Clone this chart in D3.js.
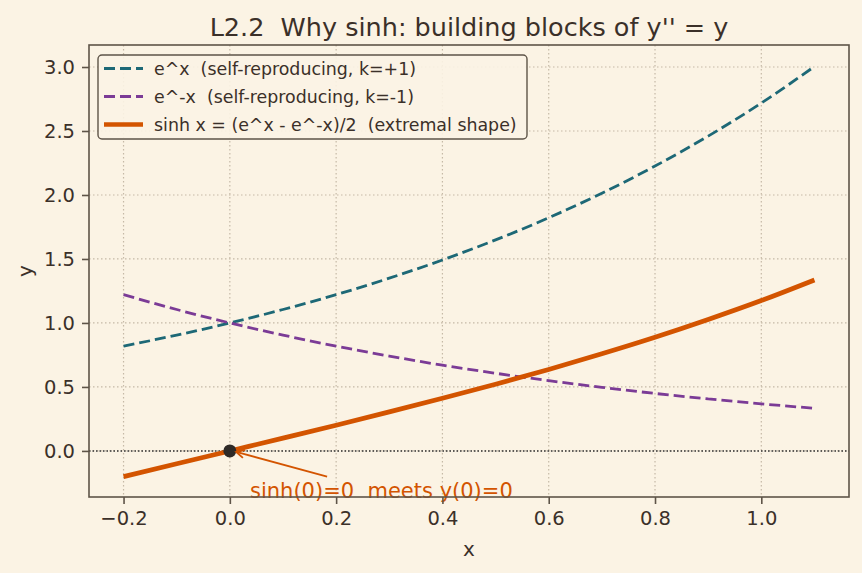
<!DOCTYPE html>
<meta charset="utf-8">
<title>Why sinh</title>
<style>
body {
  margin: 0;
  background: #fbf3e4;
  font-family: "DejaVu Sans", sans-serif;
}
text {
  white-space: pre;
}
</style>
<body></body>
<script src="https://cdn.jsdelivr.net/npm/d3@7"></script>
<script>

var width = 862,
    height = 573;

// values, x step 0.1
var xs = [-0.2, -0.1, 0.0, 0.1, 0.2, 0.3, 0.4, 0.5, 0.6, 0.7, 0.8, 0.9, 1.0, 1.1];
var expPos = [0.819, 0.905, 1.0, 1.105, 1.221, 1.350, 1.492, 1.649, 1.822, 2.014, 2.226, 2.460, 2.718, 3.004];
var expNeg = [1.221, 1.105, 1.0, 0.905, 0.819, 0.741, 0.670, 0.607, 0.549, 0.497, 0.449, 0.407, 0.368, 0.333];
var sinhY  = [-0.201, -0.100, 0.0, 0.100, 0.201, 0.305, 0.411, 0.521, 0.637, 0.759, 0.888, 1.027, 1.175, 1.336];

var xTicks = [-0.2, 0.0, 0.2, 0.4, 0.6, 0.8, 1.0];
var yTicks = [0.0, 0.5, 1.0, 1.5, 2.0, 2.5, 3.0];

var series = [
  {label: "e^x  (self-reproducing, k=+1)", ys: expPos, color: "#1d6876", w: 2.8, dash: "11,5"},
  {label: "e^-x  (self-reproducing, k=-1)", ys: expNeg, color: "#7b3b96", w: 2.8, dash: "11,5"},
  {label: "sinh x = (e^x - e^-x)/2  (extremal shape)", ys: sinhY, color: "#d35400", w: 4.7, dash: null}
];

var ink = "#3b3029",
    spine = "#5e5448",
    gridc = "#c5b9a6";

var m = {left: 89, right: 849, top: 45, bottom: 497};

var x = d3.scaleLinear().domain([-0.265, 1.165]).range([m.left, m.right]);
var y = d3.scaleLinear().domain([-0.36, 3.172]).range([m.bottom, m.top]);

var svg = d3.select("body").append("svg")
    .attr("width", width)
    .attr("height", height);

svg.append("rect")
    .attr("width", width)
    .attr("height", height)
    .attr("fill", "#fbf3e4");

// grid
var grid = svg.append("g");
grid.selectAll(".gx").data(xTicks).enter().append("line")
    .attr("x1", function(d) { return x(d); })
    .attr("x2", function(d) { return x(d); })
    .attr("y1", m.top).attr("y2", m.bottom)
    .attr("stroke", gridc).attr("stroke-width", 1.2).attr("stroke-dasharray", "1.5,2.5");
grid.selectAll(".gy").data(yTicks).enter().append("line")
    .attr("y1", function(d) { return y(d); })
    .attr("y2", function(d) { return y(d); })
    .attr("x1", m.left).attr("x2", m.right)
    .attr("stroke", gridc).attr("stroke-width", 1.2).attr("stroke-dasharray", "1.5,2.5");

// zero line
svg.append("line")
    .attr("x1", m.left).attr("x2", m.right)
    .attr("y1", y(0)).attr("y2", y(0))
    .attr("stroke", "#333").attr("stroke-width", 1.4).attr("stroke-dasharray", "1.5,2");

// curves
var line = d3.line()
    .x(function(d) { return x(d[0]); })
    .y(function(d) { return y(d[1]); })
    .curve(d3.curveMonotoneX);

series.forEach(function(s) {
  svg.append("path")
      .datum(xs.map(function(v, i) { return [v, s.ys[i]]; }))
      .attr("d", line)
      .attr("fill", "none")
      .attr("stroke", s.color)
      .attr("stroke-width", s.w)
      .attr("stroke-dasharray", s.dash);
});

// point at origin
svg.append("circle")
    .attr("cx", x(0)).attr("cy", y(0)).attr("r", 6.5)
    .attr("fill", "#2e2a27");

// annotation arrow, open head at the point
svg.append("defs").append("marker")
    .attr("id", "arr")
    .attr("viewBox", "0 0 12 12")
    .attr("refX", 10).attr("refY", 6)
    .attr("markerWidth", 12).attr("markerHeight", 12)
    .attr("markerUnits", "userSpaceOnUse")
    .attr("orient", "auto")
  .append("path")
    .attr("d", "M2,2 L10,6 L2,10")
    .attr("fill", "none")
    .attr("stroke", "#d35400")
    .attr("stroke-width", 1.8);

svg.append("line")
    .attr("x1", x(0.183)).attr("y1", y(-0.2))
    .attr("x2", x(0.012)).attr("y2", y(-0.008))
    .attr("stroke", "#d35400").attr("stroke-width", 1.8)
    .attr("marker-end", "url(#arr)");

svg.append("text")
    .attr("x", x(0.038)).attr("y", 498)
    .attr("fill", "#d35400")
    .attr("font-size", 21)
    .text("sinh(0)=0  meets y(0)=0");

// axes
var xAxis = d3.axisBottom(x).tickValues(xTicks).tickSize(7).tickPadding(7)
    .tickFormat(function(d) { return d3.format(".1f")(d).replace("-", "\u2212"); });
var yAxis = d3.axisLeft(y).tickValues(yTicks).tickSize(7).tickPadding(7)
    .tickFormat(d3.format(".1f"));

var gx = svg.append("g").attr("transform", "translate(0," + m.bottom + ")").call(xAxis);
var gy = svg.append("g").attr("transform", "translate(" + m.left + ",0)").call(yAxis);

[gx, gy].forEach(function(g) {
  g.select(".domain").remove();
  g.selectAll(".tick line").attr("stroke", spine).attr("stroke-width", 1.6);
  g.selectAll(".tick text").attr("fill", ink).attr("font-size", 19.5)
      .attr("font-family", "DejaVu Sans, sans-serif");
});

// frame
svg.append("rect")
    .attr("x", m.left).attr("y", m.top)
    .attr("width", m.right - m.left).attr("height", m.bottom - m.top)
    .attr("fill", "none").attr("stroke", spine).attr("stroke-width", 1.6);

// labels
svg.append("text")
    .attr("x", (m.left + m.right) / 2).attr("y", 556)
    .attr("text-anchor", "middle")
    .attr("fill", ink).attr("font-size", 20)
    .text("x");

svg.append("text")
    .attr("transform", "translate(32," + ((m.top + m.bottom) / 2) + ") rotate(-90)")
    .attr("text-anchor", "middle")
    .attr("fill", ink).attr("font-size", 20)
    .text("y");

svg.append("text")
    .attr("x", (m.left + m.right) / 2).attr("y", 36)
    .attr("text-anchor", "middle")
    .attr("fill", ink).attr("font-size", 25.5)
    .text("L2.2  Why sinh: building blocks of y'' = y");

// legend
var lg = svg.append("g").attr("transform", "translate(98,55)");
lg.append("rect")
    .attr("width", 429).attr("height", 84).attr("rx", 4)
    .attr("fill", "#fbf3e4").attr("fill-opacity", 0.9)
    .attr("stroke", spine).attr("stroke-width", 1.4);

series.forEach(function(s, i) {
  var yy = 13.5 + i * 28;
  lg.append("line")
      .attr("x1", 6).attr("x2", 45)
      .attr("y1", yy).attr("y2", yy)
      .attr("stroke", s.color)
      .attr("stroke-width", s.w)
      .attr("stroke-dasharray", s.dash);
  lg.append("text")
      .attr("x", 56).attr("y", yy)
      .attr("dy", "0.35em")
      .attr("fill", ink).attr("font-size", 17.4)
      .text(s.label);
});

</script>
